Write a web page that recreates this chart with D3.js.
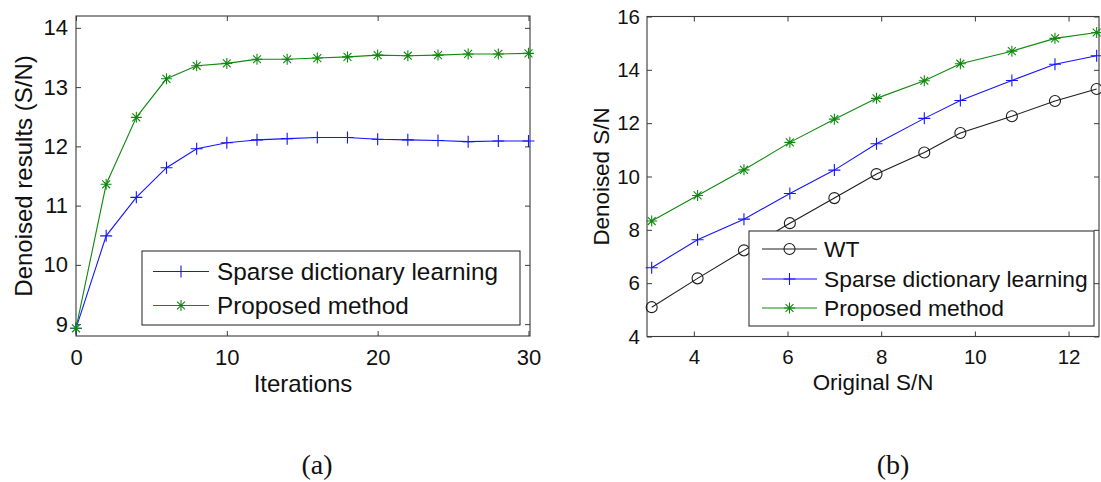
<!DOCTYPE html>
<html>
<head>
<meta charset="utf-8">
<script src="https://cdn.jsdelivr.net/npm/d3@7"></script>
<style>
  html, body { margin: 0; padding: 0; background: #fff; }
  svg { display: block; }
  text { font-family: "Liberation Sans", Arial, sans-serif; fill: #111; }
  .caption { font-family: "Liberation Serif", "Times New Roman", serif; }
</style>
</head>
<body>
<svg id="fig" width="1101" height="482"></svg>
<script>
// ---- Panel (a): denoised S/N versus iteration count ----
const iterations = [0, 2, 4, 6, 8, 10, 12, 14, 16, 18, 20, 22, 24, 26, 28, 30];
const sparseByIter = [8.93, 10.49, 11.14, 11.64, 11.96, 12.06, 12.11, 12.13, 12.15, 12.15, 12.12, 12.11, 12.10, 12.08, 12.09, 12.09];
const proposedByIter = [8.93, 11.36, 12.49, 13.14, 13.36, 13.40, 13.47, 13.47, 13.49, 13.51, 13.54, 13.53, 13.54, 13.56, 13.56, 13.57];
const iterXTicks = [0, 10, 20, 30];
const iterYTicks = [9, 10, 11, 12, 13, 14];

// ---- Panel (b): denoised S/N versus original S/N ----
const originalSnr = [3.1, 4.08, 5.07, 6.05, 7.0, 7.9, 8.92, 9.69, 10.79, 11.71, 12.6];
const wtBySnr = [5.10, 6.18, 7.23, 8.25, 9.19, 10.09, 10.90, 11.63, 12.26, 12.83, 13.28];
const sparseBySnr = [6.58, 7.63, 8.40, 9.36, 10.24, 11.23, 12.18, 12.85, 13.60, 14.21, 14.53];
const proposedBySnr = [8.33, 9.29, 10.25, 11.28, 12.15, 12.93, 13.59, 14.23, 14.70, 15.18, 15.40];
const snrXTicks = [4, 6, 8, 10, 12];
const snrYTicks = [4, 6, 8, 10, 12, 14, 16];

const seriesNames = ["WT", "Sparse dictionary learning", "Proposed method"];

const COLORS = { wt: "#1e1e1e", sparse: "#1414ff", proposed: "#0e8a0e" };
const svg = d3.select("#fig");

// marker shapes (centered at origin)
function markerPath(kind, s) {
  if (kind === "plus") return `M${-s},0H${s}M0,${-s}V${s}`;
  if (kind === "star") {
    const d = s * 0.72;
    return `M${-s},0H${s}M0,${-s}V${s}M${-d},${-d}L${d},${d}M${-d},${d}L${d},${-d}`;
  }
  return "";
}
function drawMarker(g, kind, color, cx, cy) {
  if (kind === "circle") {
    g.append("circle").attr("cx", cx).attr("cy", cy).attr("r", 5.5)
      .attr("fill", "none").attr("stroke", color).attr("stroke-width", 1.1);
  } else {
    g.append("path").attr("transform", `translate(${cx},${cy})`)
      .attr("d", markerPath(kind, kind === "plus" ? 6 : 5.5))
      .attr("fill", "none").attr("stroke", color).attr("stroke-width", 1.1);
  }
}

function panel(cfg) {
  const g = svg.append("g");
  const x = d3.scaleLinear().domain(cfg.xDomain).range([cfg.left, cfg.right]);
  const y = d3.scaleLinear().domain(cfg.yDomain).range([cfg.bottom, cfg.top]);
  const fmt = d3.format("d");

  // axes with inward ticks, mirrored on the opposite sides
  const styleAxis = sel => {
    sel.select(".domain").remove();
    sel.selectAll(".tick line").attr("stroke", "#3a3a3a").attr("stroke-width", 1);
    sel.selectAll(".tick text").attr("font-size", cfg.tickFont)
      .attr("font-family", "Liberation Sans, Arial, sans-serif").attr("fill", "#111");
  };
  g.append("g").attr("transform", `translate(0,${cfg.bottom})`)
    .call(d3.axisBottom(x).tickValues(cfg.xTicks).tickFormat(fmt).tickSizeInner(-5).tickSizeOuter(0).tickPadding(13))
    .call(styleAxis);
  g.append("g").attr("transform", `translate(0,${cfg.top})`)
    .call(d3.axisTop(x).tickValues(cfg.xTicks).tickSizeInner(-5).tickSizeOuter(0).tickFormat(""))
    .call(styleAxis);
  g.append("g").attr("transform", `translate(${cfg.left},0)`)
    .call(d3.axisLeft(y).tickValues(cfg.yTicks).tickFormat(fmt).tickSizeInner(-5).tickSizeOuter(0).tickPadding(cfg.yPad))
    .call(styleAxis);
  g.append("g").attr("transform", `translate(${cfg.right},0)`)
    .call(d3.axisRight(y).tickValues(cfg.yTicks).tickSizeInner(-5).tickSizeOuter(0).tickFormat(""))
    .call(styleAxis);

  // frame
  g.append("rect").attr("x", cfg.left).attr("y", cfg.top)
    .attr("width", cfg.right - cfg.left).attr("height", cfg.bottom - cfg.top)
    .attr("fill", "none").attr("stroke", "#3a3a3a").attr("stroke-width", 1.1);

  // series
  const plot = g.append("g");
  cfg.series.forEach(s => {
    const pts = cfg.xs.map((v, i) => [x(v), y(s.values[i])]);
    plot.append("path").attr("d", d3.line()(pts))
      .attr("fill", "none").attr("stroke", s.color).attr("stroke-width", 1.1);
    pts.forEach(p => drawMarker(plot, s.marker, s.color, p[0], p[1]));
  });

  // axis labels
  g.append("text").attr("x", (cfg.left + cfg.right) / 2).attr("y", cfg.xLabelY)
    .attr("text-anchor", "middle").attr("font-size", cfg.labelFont).text(cfg.xLabel);
  g.append("text")
    .attr("transform", `translate(${cfg.yLabelX},${(cfg.top + cfg.bottom) / 2}) rotate(-90)`)
    .attr("text-anchor", "middle").attr("font-size", cfg.labelFont).text(cfg.yLabel);

  // legend
  const L = cfg.legend;
  const lg = g.append("g");
  lg.append("rect").attr("x", L.x0).attr("y", L.y0).attr("width", L.x1 - L.x0).attr("height", L.y1 - L.y0)
    .attr("fill", "#fff").attr("stroke", "#333").attr("stroke-width", 1.1);
  cfg.series.forEach((s, i) => {
    const cy = L.rowY[i];
    lg.append("line").attr("x1", L.lineX0).attr("x2", L.lineX1).attr("y1", cy).attr("y2", cy)
      .attr("stroke", s.color).attr("stroke-width", 1.1);
    drawMarker(lg, s.marker, s.color, (L.lineX0 + L.lineX1) / 2, cy);
    lg.append("text").attr("x", L.textX).attr("y", cy + 8.3).attr("font-size", L.font).text(s.name);
  });

  // caption
  g.append("text").attr("class", "caption").attr("x", cfg.captionX).attr("y", 474)
    .attr("text-anchor", "middle").attr("font-size", "28px").text(cfg.caption);
}

panel({
  left: 76, right: 530, top: 16, bottom: 336,
  xDomain: [0, 30.1], yDomain: [8.8, 14.2],
  xTicks: iterXTicks, yTicks: iterYTicks, yPad: 8,
  tickFont: "22px", labelFont: "24px",
  xs: iterations,
  series: [
    { name: seriesNames[1], values: sparseByIter, color: COLORS.sparse, marker: "plus" },
    { name: seriesNames[2], values: proposedByIter, color: COLORS.proposed, marker: "star" }
  ],
  xLabel: "Iterations", xLabelY: 391.5,
  yLabel: "Denoised results (S/N)", yLabelX: 32,
  legend: { x0: 142, x1: 520, y0: 251, y1: 325, rowY: [271.5, 305.5], lineX0: 153, lineX1: 209, textX: 217, font: "24.3px" },
  caption: "(a)", captionX: 317
});

panel({
  left: 647, right: 1099, top: 16.5, bottom: 336.5,
  xDomain: [3, 12.65], yDomain: [4, 16],
  xTicks: snrXTicks, yTicks: snrYTicks, yPad: 7,
  tickFont: "20.5px", labelFont: "22.4px",
  xs: originalSnr,
  series: [
    { name: seriesNames[0], values: wtBySnr, color: COLORS.wt, marker: "circle" },
    { name: seriesNames[1], values: sparseBySnr, color: COLORS.sparse, marker: "plus" },
    { name: seriesNames[2], values: proposedBySnr, color: COLORS.proposed, marker: "star" }
  ],
  xLabel: "Original S/N", xLabelY: 389.5,
  yLabel: "Denoised S/N", yLabelX: 609,
  legend: { x0: 749, x1: 1094, y0: 231, y1: 326, rowY: [249, 279, 308], lineX0: 762, lineX1: 817, textX: 824, font: "22.8px" },
  caption: "(b)", captionX: 893
});
</script>
</body>
</html>
